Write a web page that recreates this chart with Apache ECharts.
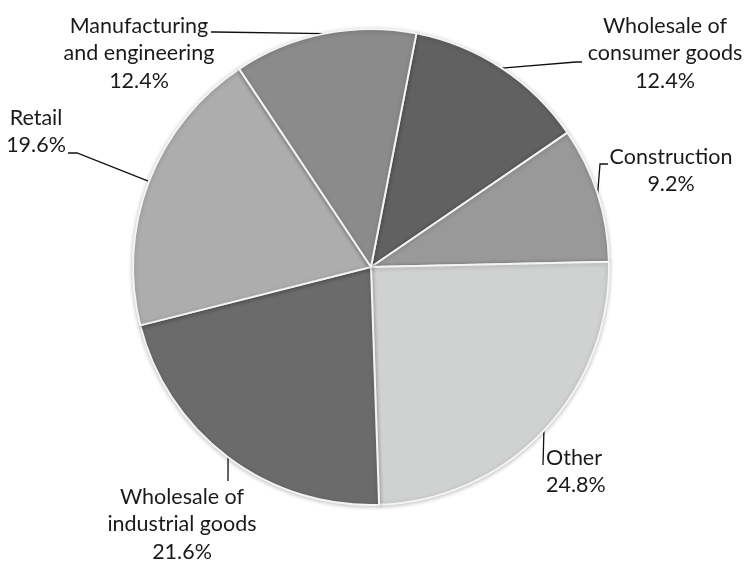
<!DOCTYPE html>
<html>
<head>
<meta charset="utf-8">
<script src="https://cdn.jsdelivr.net/npm/echarts@6/dist/echarts.min.js"></script>
<style>
  html, body { margin: 0; padding: 0; background: #ffffff; }
  #chart { width: 746px; height: 561px; }
</style>
</head>
<body>
<div id="chart"></div>
<script>
// Sector shares (%), listed clockwise from the slice just right of twelve o'clock
const categories = [
  'Wholesale of\nconsumer goods',
  'Construction',
  'Other',
  'Wholesale of\nindustrial goods',
  'Retail',
  'Manufacturing\nand engineering'
];
const shares = [12.4, 9.2, 24.8, 21.6, 19.6, 12.4];

// Grey palette, one shade per slice
const sliceColors = ['#616161', '#999999', '#d0d1d1', '#6b6b6b', '#adadad', '#8b8b8b'];

// Where each callout sits, and the bend/end of its leader line
const callouts = [
  { x: 665, y: 12,  align: 'center', elbow: [576, 62],  end: [582, 62] },
  { x: 671, y: 143, align: 'center', elbow: [600, 164], end: [608, 164] },
  { x: 546, y: 444, align: 'left',   elbow: [543, 465], end: [543, 465] },
  { x: 182, y: 483, align: 'center', elbow: [228, 481], end: [228, 481] },
  { x: 36,  y: 104, align: 'center', elbow: [77, 153],  end: [68, 153] },
  { x: 139, y: 12,  align: 'center', elbow: [215, 32],  end: [211, 32] }
];

const chart = echarts.init(document.getElementById('chart'), null, { renderer: 'canvas' });

chart.setOption({
  backgroundColor: '#ffffff',
  animation: false,
  color: sliceColors,
  series: [{
    type: 'pie',
    center: [371, 267],
    radius: 238,
    startAngle: 79,
    clockwise: true,
    avoidLabelOverlap: false,
    data: categories.map((name, i) => ({ name: name, value: shares[i] })),
    itemStyle: {
      borderColor: '#f4f4f4',
      borderWidth: 2,
      shadowBlur: 4,
      shadowColor: 'rgba(0,0,0,0.22)',
      shadowOffsetY: 1
    },
    label: {
      show: true,
      position: 'outside',
      formatter: '{b}\n{c}%',
      fontFamily: 'Lato',
      fontSize: 21.5,
      lineHeight: 27.5,
      color: '#1a1a1a'
    },
    labelLine: {
      show: true,
      length: 10,
      length2: 10,
      lineStyle: { color: '#111111', width: 1.3 }
    },
    labelLayout: function (params) {
      const c = callouts[params.dataIndex];
      const start = params.labelLinePoints ? params.labelLinePoints[0] : c.elbow;
      return {
        x: c.x,
        y: c.y,
        align: c.align,
        verticalAlign: 'top',
        labelLinePoints: [start, c.elbow, c.end]
      };
    },
    emphasis: { disabled: true }
  }]
});
</script>
</body>
</html>
